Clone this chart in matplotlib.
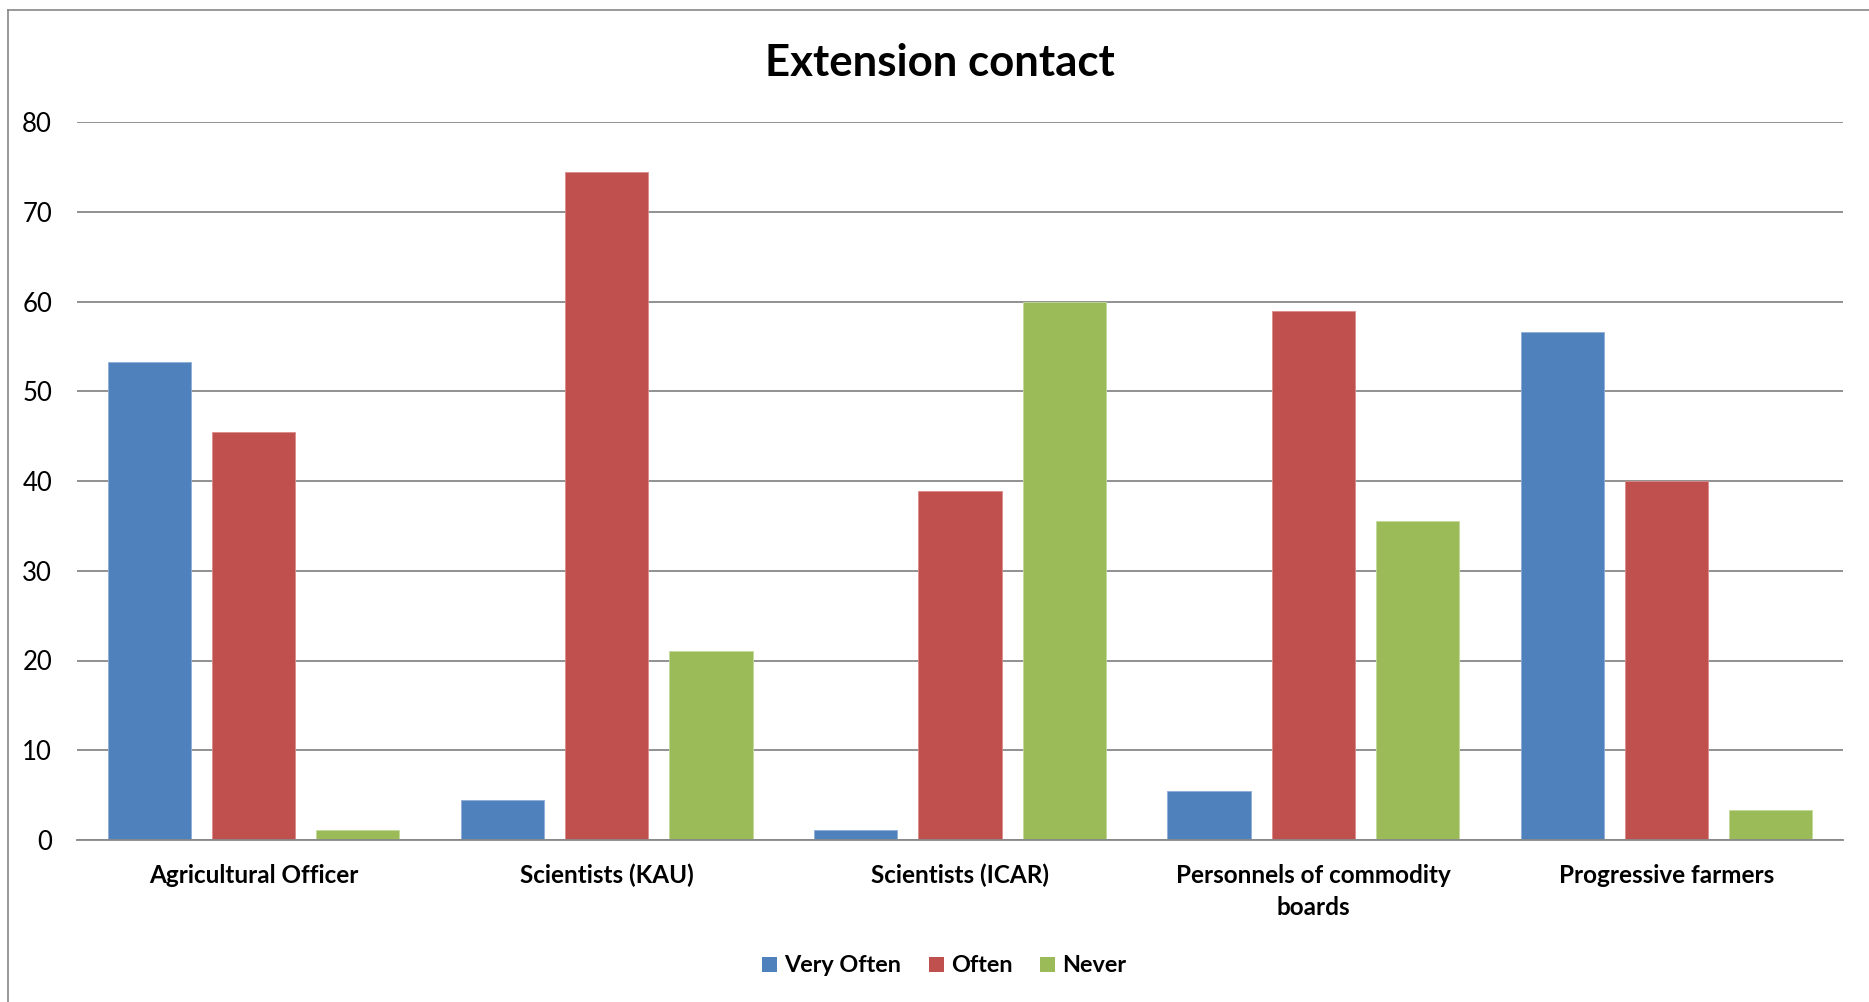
import matplotlib
matplotlib.use("Agg")
import matplotlib.pyplot as plt
from matplotlib.patches import Patch
from matplotlib.lines import Line2D
import numpy as np

plt.rcParams['font.family'] = ['Lato', 'DejaVu Sans']

categories = ['Agricultural Officer', 'Scientists (KAU)', 'Scientists (ICAR)',
              'Personnels of commodity\nboards', 'Progressive farmers']
very_often = [53.3, 4.5, 1.1, 5.5, 56.6]
often = [45.5, 74.4, 38.9, 58.9, 40.0]
never = [1.1, 21.1, 60.0, 35.5, 3.3]

series = ['Very Often', 'Often', 'Never']
colors = ['#4F81BD', '#C0504D', '#9BBB59']
edges = ['#8EADD6', '#DB8C8A', '#C3D99A']

W, H = 1869, 1002
fig = plt.figure(figsize=(W / 100, H / 100), dpi=100)
ax = fig.add_axes([77 / W, 1 - 840 / H, (1843 - 77) / W, (840 - 122) / H])

x = np.arange(len(categories))
width = 0.236
step = 0.295
for i, (vals, c, ec) in enumerate(zip([very_often, often, never], colors, edges)):
    ax.bar(x + (i - 1) * step, vals, width, color=c, edgecolor=ec,
           linewidth=0.6, zorder=3)

ax.set_xlim(-0.5, len(categories) - 0.5)
ax.set_ylim(0, 80)
ax.set_yticks(range(0, 81, 10))
ax.yaxis.grid(True, color='#888888', linewidth=1.3, zorder=0)
ax.set_axisbelow(True)
for s in ['top', 'right', 'left']:
    ax.spines[s].set_visible(False)
ax.spines['bottom'].set_color('#888888')
ax.spines['bottom'].set_linewidth(1.3)
ax.spines['bottom'].set_zorder(4)

ax.set_xticks(x)
ax.set_xticklabels(categories, fontweight='bold', fontsize=17.5,
                   linespacing=1.5)
ax.tick_params(axis='x', length=0, pad=17)
ax.tick_params(axis='y', length=0, pad=18, labelsize=18.5)

fig.text(940 / W, 1 - 76 / H, 'Extension contact', ha='center',
         va='baseline', fontsize=31.5, fontweight='bold')

handles = [Patch(facecolor=c, edgecolor='none') for c in colors]
leg = fig.legend(handles, series, loc='center', ncol=3,
                 bbox_to_anchor=(944 / W, 1 - 966 / H), frameon=False,
                 prop={'weight': 'bold', 'size': 16.8},
                 handlelength=0.65, handleheight=0.65,
                 handletextpad=0.3, columnspacing=1.2)

# outer chart border (left and top edges)
border = '#878787'
fig.add_artist(Line2D([8 / W, 8 / W], [0, 1 - 10 / H], color=border, lw=1.2))
fig.add_artist(Line2D([8 / W, 1], [1 - 10 / H, 1 - 10 / H], color=border, lw=1.2))

fig.savefig('out.png', dpi=100, facecolor='white')
